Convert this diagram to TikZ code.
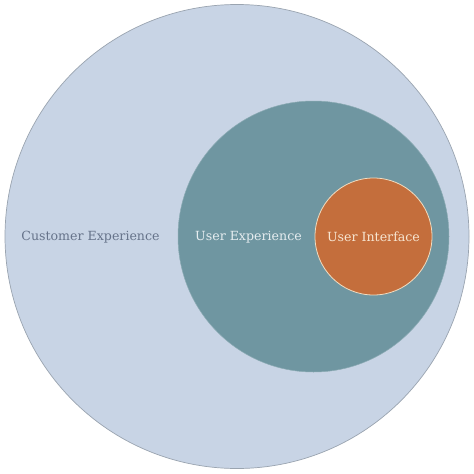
\documentclass[tikz,border=0pt]{standalone}
\usepackage{fontspec}
\setmainfont{DejaVu Serif}
\definecolor{cxfill}{HTML}{C8D4E5}
\definecolor{cxline}{HTML}{9AA4B0}
\definecolor{uxfill}{HTML}{6F96A1}
\definecolor{uifill}{HTML}{C46E3C}
\definecolor{uiline}{HTML}{F0DCC0}
\definecolor{cxtext}{HTML}{66738A}
\definecolor{uxtext}{HTML}{E6EDF0}
\definecolor{uitext}{HTML}{F7E6D2}
\begin{document}
\begin{tikzpicture}[x=1pt,y=-1pt,
  lbl/.style={font=\fontsize{12.6}{14}\selectfont, inner sep=0pt}]
\useasboundingbox (0,0) rectangle (474,474);
\fill[white] (0,0) rectangle (474,474);
\node[circle, draw=cxline, line width=0.7pt, fill=cxfill, minimum size=464pt, inner sep=0pt] (cx) at (237,236.5) {};
\node[circle, draw=uxfill!80!white, line width=0.5pt, fill=uxfill, minimum size=271pt, inner sep=0pt] (ux) at (313.5,236.5) {};
\node[circle, draw=uiline, line width=0.8pt, fill=uifill, minimum size=117pt, inner sep=0pt] (ui) at (373.5,236.5) {};
\node[lbl, text=cxtext] (cxl) at (90.5,237) {Customer Experience};
\node[lbl, text=uxtext] (uxl) at (248.5,237) {User Experience};
\node[lbl, text=uitext] (uil) at (373.5,237) {User Interface};
\end{tikzpicture}
\end{document}
